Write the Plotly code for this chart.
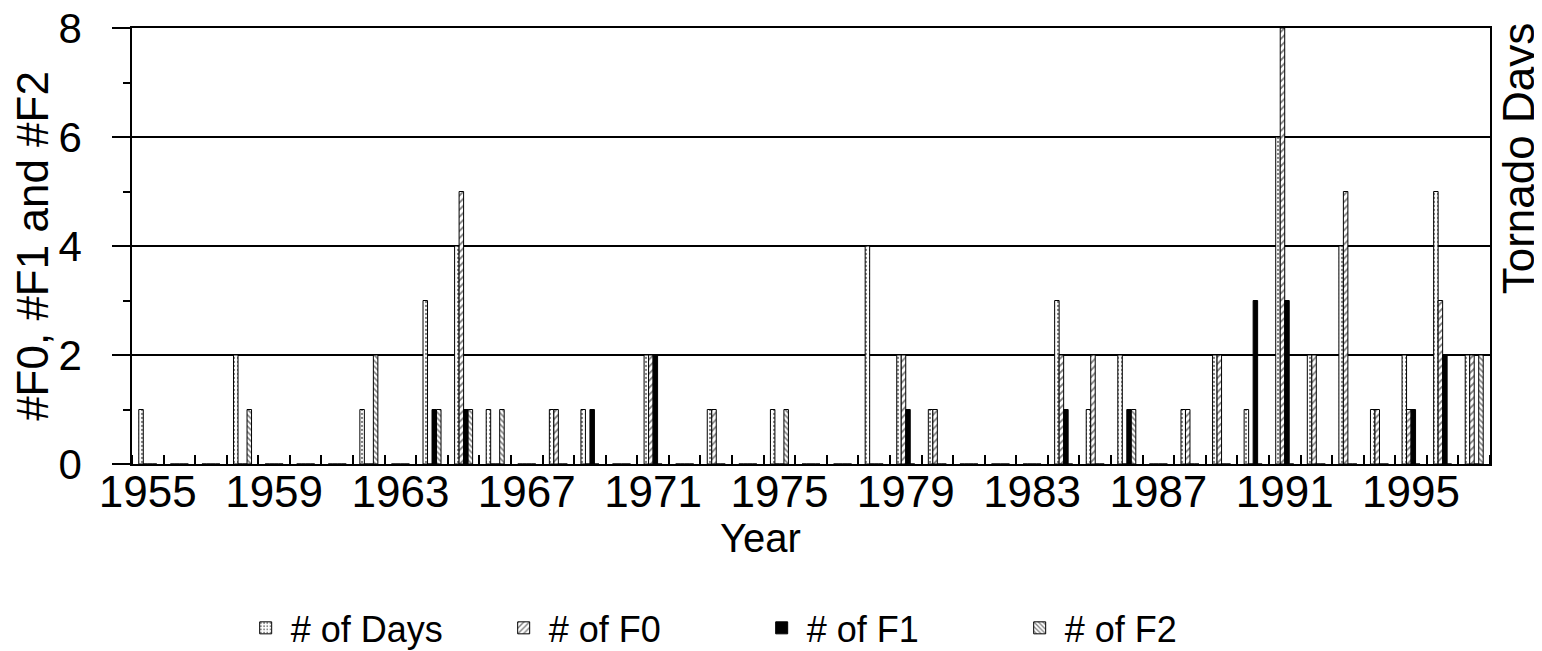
import plotly.graph_objects as go

# Tornado counts per year, 1955-1997
years = list(range(1955, 1998))

days = [1, 0, 0, 2, 0, 0, 0, 1, 0, 3,
        4, 1, 0, 1, 1, 0, 2, 0, 1, 0,
        1, 0, 0, 4, 2, 1, 0, 0, 0, 3,
        1, 2, 0, 1, 2, 1, 6, 2, 4, 1,
        2, 5, 2]
f0 = [0, 0, 0, 0, 0, 0, 0, 0, 0, 0,
      5, 0, 0, 1, 0, 0, 2, 0, 1, 0,
      0, 0, 0, 0, 2, 1, 0, 0, 0, 2,
      2, 0, 0, 1, 2, 0, 8, 2, 5, 1,
      1, 3, 2]
f1 = [0, 0, 0, 0, 0, 0, 0, 0, 0, 1,
      1, 0, 0, 0, 1, 0, 2, 0, 0, 0,
      0, 0, 0, 0, 1, 0, 0, 0, 0, 1,
      0, 1, 0, 0, 0, 3, 3, 0, 0, 0,
      1, 2, 0]
f2 = [0, 0, 0, 1, 0, 0, 0, 2, 0, 1,
      1, 1, 0, 0, 0, 0, 0, 0, 0, 0,
      1, 0, 0, 0, 0, 0, 0, 0, 0, 0,
      0, 1, 0, 0, 0, 0, 0, 0, 0, 0,
      0, 0, 2]

label_years = list(range(1955, 1998, 4))
y_major = [0, 2, 4, 6, 8]
y_minor = [1, 3, 5, 7]

FONT = "Liberation Sans, Arial, Helvetica, sans-serif"
_BLACK = "black"

boundaries = [y - 0.5 for y in years] + [years[-1] + 0.5]

fig = go.Figure()

series = [
    ("# of Days", days, dict(color="white", pattern=dict(shape=".", fgcolor=_BLACK, size=4, solidity=0.25))),
    ("# of F0", f0, dict(color="white", pattern=dict(shape="/", fgcolor=_BLACK, size=5, solidity=0.35))),
    ("# of F1", f1, dict(color=_BLACK)),
    ("# of F2", f2, dict(color="white", pattern=dict(shape="\\", fgcolor=_BLACK, size=4, solidity=0.4))),
]
for name, vals, mk in series:
    fig.add_trace(go.Bar(
        x=years, y=vals, name=name,
        marker=dict(line=dict(color=_BLACK, width=1), **mk),
    ))

# page body adds an 8px offset, so the figure is 8px smaller than the window
fig.update_layout(
    width=1534, height=643,
    margin=dict(l=124, r=52, t=20, b=187, autoexpand=False),
    barmode="group", bargap=0.43, bargroupgap=0,
    plot_bgcolor="white", paper_bgcolor="white",
    font=dict(family=FONT, size=40, color=_BLACK),
    showlegend=True,
    legend=dict(
        orientation="h", x=0.46, xanchor="center", y=-0.376, yanchor="middle",
        font=dict(size=36), itemwidth=40, entrywidth=203,
        bgcolor="rgba(0,0,0,0)",
    ),
    xaxis=dict(
        range=[1954.5, 1997.5], automargin=False,
        tickmode="array", tickvals=label_years, ticktext=[str(y) for y in label_years],
        ticks="", ticklen=0, ticklabelstandoff=-12, tickfont=dict(size=44),
        ticklabeloverflow="allow",
        minor=dict(tickmode="array", tickvals=boundaries, ticks="inside",
                   ticklen=9, tickwidth=1.5, tickcolor=_BLACK, showgrid=False),
        showline=True, linecolor=_BLACK, linewidth=1.5, mirror=True,
        showgrid=False, zeroline=False,
    ),
    xaxis2=dict(
        overlaying="x", matches="x", anchor="y", side="bottom",
        tickmode="array", tickvals=boundaries, ticks="outside", ticklen=10,
        tickwidth=1.5, tickcolor=_BLACK, showticklabels=False,
        showgrid=False, showline=False, zeroline=False,
    ),
    yaxis=dict(
        range=[0, 8], automargin=False,
        tickmode="array", tickvals=y_major,
        ticks="outside", ticklen=18, tickwidth=1.5, tickcolor=_BLACK,
        ticklabelstandoff=22, tickfont=dict(size=42),
        ticklabeloverflow="allow",
        minor=dict(tickmode="array", tickvals=y_minor, ticks="outside",
                   ticklen=7, tickwidth=1.5, tickcolor=_BLACK, showgrid=False),
        showgrid=True, gridcolor=_BLACK, gridwidth=1.5,
        showline=True, linecolor=_BLACK, linewidth=1.5, mirror=True,
        zeroline=False,
        title=dict(text="#F0, #F1 and #F2", font=dict(size=44), standoff=10),
    ),
    yaxis2=dict(
        overlaying="y", matches="y", anchor="x", side="left",
        tickmode="array", tickvals=y_minor, ticks="inside", ticklen=6,
        tickwidth=1.5, tickcolor=_BLACK, showticklabels=False,
        showgrid=False, showline=False, zeroline=False,
    ),
)

# x-axis title below the tick labels
fig.add_annotation(
    text="Year", xref="paper", yref="paper", x=0.4625, y=0,
    xanchor="center", yanchor="middle", yshift=-74,
    showarrow=False, font=dict(family=FONT, size=40, color=_BLACK),
)

# right-hand axis title
fig.add_annotation(
    text="Tornado Days", textangle=-90,
    xref="paper", yref="paper", x=1, y=0.70,
    xanchor="left", yanchor="middle", xshift=2,
    showarrow=False, font=dict(family=FONT, size=44, color=_BLACK),
)

fig.write_html("out.html")
